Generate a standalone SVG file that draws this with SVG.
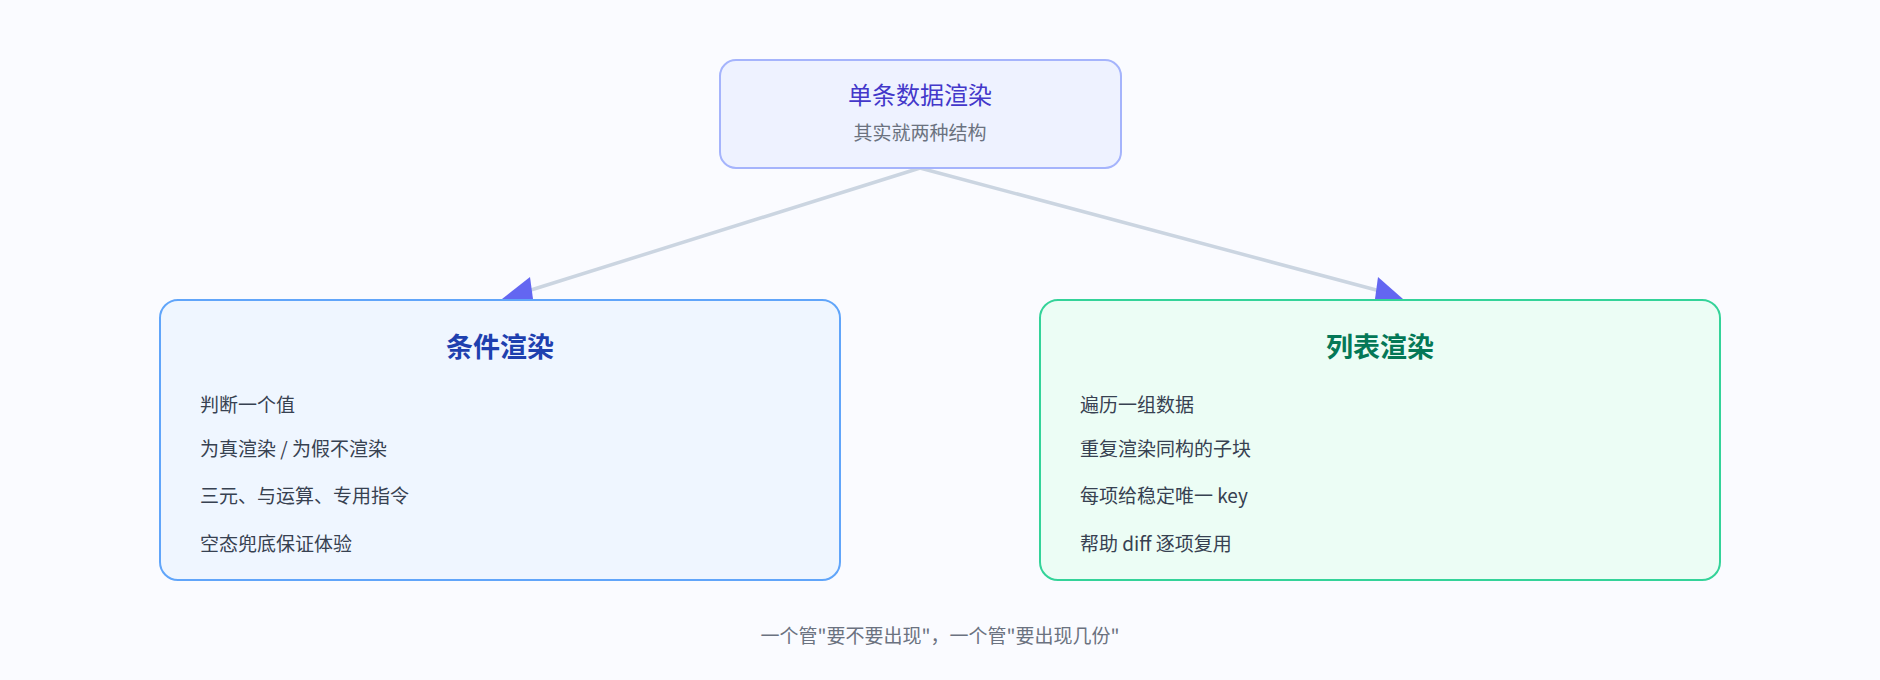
<svg xmlns="http://www.w3.org/2000/svg" width="1880" height="680" viewBox="0 0 1880 680">
<style>
text{font-family:"Noto Sans CJK SC","Noto Sans",sans-serif}
.it{font-size:19px;fill:#374151}
.conn{stroke:#cbd5e1;stroke-width:3.5;fill:none}
</style>
<defs>
<marker id="ah" viewBox="0 0 10 10" refX="9" refY="5" markerWidth="8" markerHeight="8" markerUnits="userSpaceOnUse" orient="auto" style="overflow:visible">
<path d="M0,0 L10,5 L0,10 Z" fill="#6366f1" transform="scale(2.8) translate(-6,-5) translate(6,5)"/>
</marker>
</defs>
<rect width="1880" height="680" fill="#fafbff"/>
<g id="connectors">
<line class="conn" x1="920" y1="168" x2="515" y2="295"/>
<line class="conn" x1="920" y1="168" x2="1395" y2="295"/>
<polygon points="530,277 502,299 533,299" fill="#6366f1"/>
<polygon points="1378,277 1375,299 1403,299" fill="#6366f1"/>
</g>
<g id="top">
<rect x="720" y="60" width="401" height="108" rx="16" fill="#eef2ff" stroke="#a5b4fc" stroke-width="2"/>
<text x="920" y="104" text-anchor="middle" font-size="24" fill="#4338ca">单条数据渲染</text>
<text x="920" y="140" text-anchor="middle" font-size="19" fill="#6b7280">其实就两种结构</text>
</g>
<g id="cond">
<rect x="160" y="300" width="680" height="280" rx="18" fill="#eff6ff" stroke="#60a5fa" stroke-width="2"/>
<text x="500" y="357" text-anchor="middle" font-size="27" font-weight="bold" fill="#1e40af">条件渲染</text>
<text class="it" x="200" y="412">判断一个值</text>
<text class="it" x="200" y="456">为真渲染 / 为假不渲染</text>
<text class="it" x="200" y="503">三元、与运算、专用指令</text>
<text class="it" x="200" y="551">空态兜底保证体验</text>
</g>
<g id="list">
<rect x="1040" y="300" width="680" height="280" rx="18" fill="#ecfdf5" stroke="#34d399" stroke-width="2"/>
<text x="1380" y="357" text-anchor="middle" font-size="27" font-weight="bold" fill="#047857">列表渲染</text>
<text class="it" x="1080" y="412">遍历一组数据</text>
<text class="it" x="1080" y="456">重复渲染同构的子块</text>
<text class="it" x="1080" y="503">每项给稳定唯一 key</text>
<text class="it" x="1080" y="551">帮助 diff 逐项复用</text>
</g>
<text x="940" y="643" text-anchor="middle" font-size="19" fill="#6b7280">一个管"要不要出现"，一个管"要出现几份"</text>
</svg>
